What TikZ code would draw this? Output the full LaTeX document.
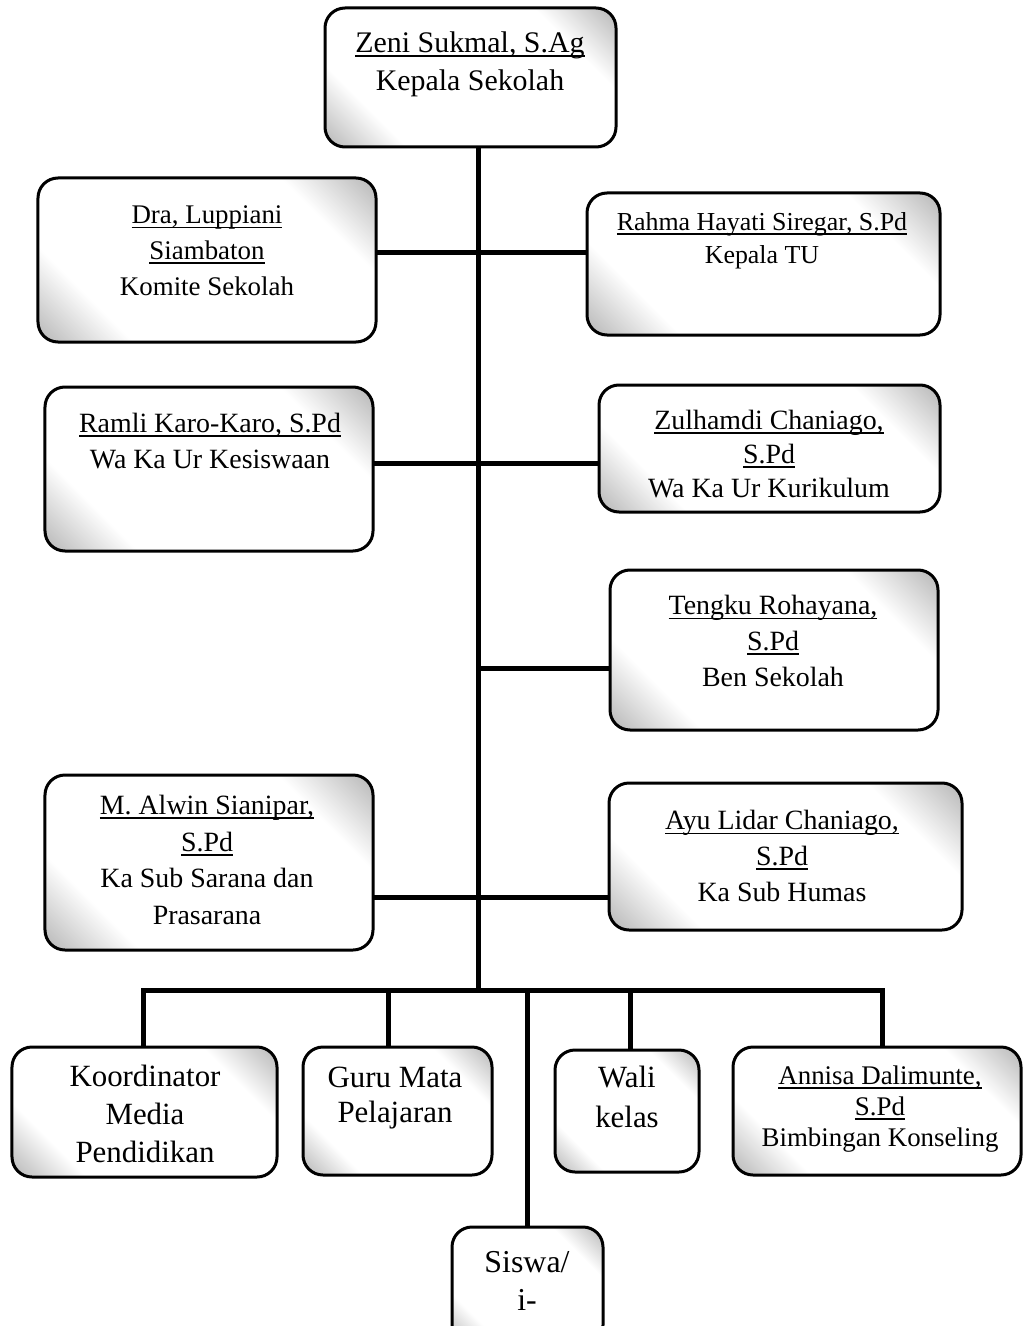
\documentclass[tikz,border=0pt]{standalone}
\usepackage{fontspec}
\setmainfont{Liberation Serif}
\newcommand{\nm}[1]{{\setbox0\hbox{#1}\rlap{\rule[-0.16em]{\wd0}{1.6pt}}\box0}}
\pgfdeclarehorizontalshading{speck}{100bp}{color(0bp)=(black!60); color(28bp)=(white); color(72bp)=(white); color(100bp)=(black!60)}
\tikzset{
  box/.style={draw=black, line width=3bp, rounded corners=20bp, shading=speck, shading angle=45, inner sep=0pt, outer sep=0pt},
  txt/.style={align=center, inner sep=0pt, text=black},
  conn/.style={draw=black, line width=5bp, line join=miter}
}
\begin{document}
\begin{tikzpicture}[x=1bp,y=-1bp]
\useasboundingbox (0,0) rectangle (1024,1326);
\fill[white] (0,0) rectangle (1024,1326);
\clip (0,0) rectangle (1024,1326);
% trunk junction coordinates
\coordinate (j1) at (478,253);
\coordinate (j2) at (478,463);
\coordinate (j3) at (478,668);
\coordinate (j4) at (478,897);
\coordinate (bus) at (478,990);
\coordinate (d1) at (143,990);
\coordinate (d2) at (388,990);
\coordinate (d3) at (527,990);
\coordinate (d4) at (630,990);
\coordinate (d5) at (882,990);
% boxes
\node[box, minimum width=291bp, minimum height=139bp] (zeni) at (470.5,77.5) {};
\node[box, minimum width=338bp, minimum height=164bp] (komite) at (207,260) {};
\node[box, minimum width=353bp, minimum height=142bp] (tu) at (763.5,264) {};
\node[box, minimum width=328bp, minimum height=164bp] (ramli) at (209,469) {};
\node[box, minimum width=341bp, minimum height=127bp] (zul) at (769.5,448.5) {};
\node[box, minimum width=328bp, minimum height=160bp] (tengku) at (774,650) {};
\node[box, minimum width=328bp, minimum height=175bp] (alwin) at (209,862.5) {};
\node[box, minimum width=353bp, minimum height=147bp] (ayu) at (785.5,856.5) {};
\node[box, minimum width=265bp, minimum height=130bp] (koord) at (144.5,1112) {};
\node[box, minimum width=189bp, minimum height=128bp] (guru) at (397.5,1111) {};
\node[box, minimum width=144bp, minimum height=122bp] (wali) at (627,1111) {};
\node[box, minimum width=288bp, minimum height=128bp] (annisa) at (877,1111) {};
\node[box, minimum width=151bp, minimum height=118bp] (siswa) at (527.5,1286) {};
% connectors
\draw[conn] (zeni.south -| bus) -- (bus);
\draw[conn] (komite.east |- j1) -- (tu.west |- j1);
\draw[conn] (ramli.east |- j2) -- (zul.west |- j2);
\draw[conn] (j3) -- (tengku.west |- j3);
\draw[conn] (alwin.east |- j4) -- (ayu.west |- j4);
\draw[conn] (koord.north -| d1) -- (d1) -- (d5) -- (annisa.north -| d5);
\draw[conn] (d2) -- (guru.north -| d2);
\draw[conn] (d3) -- (siswa.north -| d3);
\draw[conn] (d4) -- (wali.north -| d4);
% texts
\node[txt, font=\fontsize{30}{38}\selectfont] (zeni-t) at (470,64) {\nm{Zeni Sukmal, S.Ag}\\Kepala Sekolah};
\node[txt, font=\fontsize{27}{36}\selectfont] (komite-t) at (207,251) {\nm{Dra, Luppiani}\\\nm{Siambaton}\\Komite Sekolah};
\node[txt, font=\fontsize{26}{33}\selectfont] (tu-t) at (762,241) {\nm{Rahma Hayati Siregar, S.Pd}\\Kepala TU};
\node[txt, font=\fontsize{28}{37}\selectfont] (ramli-t) at (210,441) {\nm{Ramli Karo-Karo, S.Pd}\\Wa Ka Ur Kesiswaan};
\node[txt, font=\fontsize{28}{34}\selectfont] (zul-t) at (769,454) {\nm{Zulhamdi Chaniago,}\\\nm{S.Pd}\\Wa Ka Ur Kurikulum};
\node[txt, font=\fontsize{28}{36}\selectfont] (tengku-t) at (773,641) {\nm{Tengku Rohayana,}\\\nm{S.Pd}\\Ben Sekolah};
\node[txt, font=\fontsize{28}{37}\selectfont] (alwin-t) at (207,860) {\nm{M. Alwin Sianipar,}\\\nm{S.Pd}\\Ka Sub Sarana dan\\Prasarana};
\node[txt, font=\fontsize{28}{36}\selectfont] (ayu-t) at (782,856) {\nm{Ayu Lidar Chaniago,}\\\nm{S.Pd}\\Ka Sub Humas};
\node[txt, font=\fontsize{31}{38}\selectfont] (koord-t) at (145,1114) {Koordinator\\Media\\Pendidikan};
\node[txt, font=\fontsize{31}{36}\selectfont] (guru-t) at (395,1098) {Guru Mata\\Pelajaran};
\node[txt, font=\fontsize{31}{40}\selectfont] (wali-t) at (627,1097) {Wali\\kelas};
\node[txt, font=\fontsize{27}{31}\selectfont] (annisa-t) at (880,1109) {\nm{Annisa Dalimunte,}\\\nm{S.Pd}\\Bimbingan Konseling};
\node[txt, font=\fontsize{32}{38}\selectfont] (siswa-t) at (527,1281) {Siswa/\\i-};
\end{tikzpicture}
\end{document}
